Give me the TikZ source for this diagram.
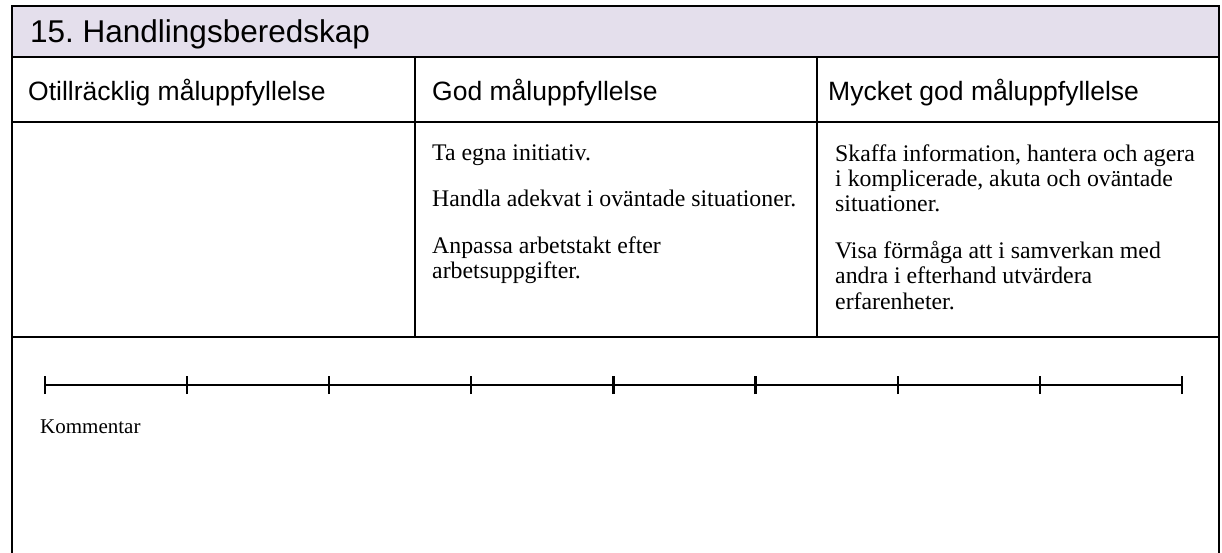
\documentclass[tikz,border=0pt]{standalone}
\usepackage{fontspec}
\setmainfont{Liberation Serif}
\newfontfamily\arial{Liberation Sans}
\definecolor{titlebg}{RGB}{228,223,236}
\newcommand{\bodyfont}{\fontsize{23.8}{25.5}\selectfont}
\frenchspacing

\begin{document}
\begin{tikzpicture}[x=1pt,y=-1pt,
  rule/.style={line width=1.6pt},
  scale rule/.style={line width=2.2pt},
  head/.style={anchor=base west,inner sep=0pt,font=\arial\fontsize{26.5}{30}\selectfont},
  body/.style={anchor=base west,inner sep=0pt,align=left,font=\bodyfont}]
\useasboundingbox (0,0) rectangle (1222,553);
% title band and table rules
\fill[titlebg] (12,6) rectangle (1219,57);
\draw[rule] (12,553) -- (12,6) -- (1219,6) -- (1219,553);
\draw[rule] (12,57) -- (1219,57) (12,122) -- (1219,122) (12,337) -- (1219,337);
\draw[rule] (415,57) -- (415,337) (817,57) -- (817,337);

\node[head,font=\arial\fontsize{31.5}{34}\selectfont] (title) at (30,43) {15. Handlingsberedskap};
\node[head] (low) at (28,101) {Otillräcklig måluppfyllelse};
\node[head] (good) at (432,101) {God måluppfyllelse};
\node[head] (vgood) at (828,101) {Mycket god måluppfyllelse};

% base anchor sits on the last line
\node[body] (g1) at (432,161) {Ta egna initiativ.};
\node[body] (g2) at (432,207) {Handla adekvat i oväntade situationer.};
\node[body] (g3) at (432,278.5) {Anpassa arbetstakt efter\\arbetsuppgifter.};
\node[body] (v1) at (835,212) {Skaffa information, hantera och agera\\i komplicerade, akuta och oväntade\\situationer.};
\node[body] (v2) at (835,309) {Visa förmåga att i samverkan med\\andra i efterhand utvärdera\\erfarenheter.};

% grading scale
\foreach \i in {0,...,8} {
  \coordinate (t\i) at (45+142.1*\i,385);
  \draw[scale rule] ([yshift=-9pt]t\i) -- ([yshift=9pt]t\i);
}
\draw[scale rule] (t0) -- (t8);
\node[anchor=base west,inner sep=0pt,font=\fontsize{21}{24}\selectfont] (comment) at (40,433) {Kommentar};
\end{tikzpicture}
\end{document}
